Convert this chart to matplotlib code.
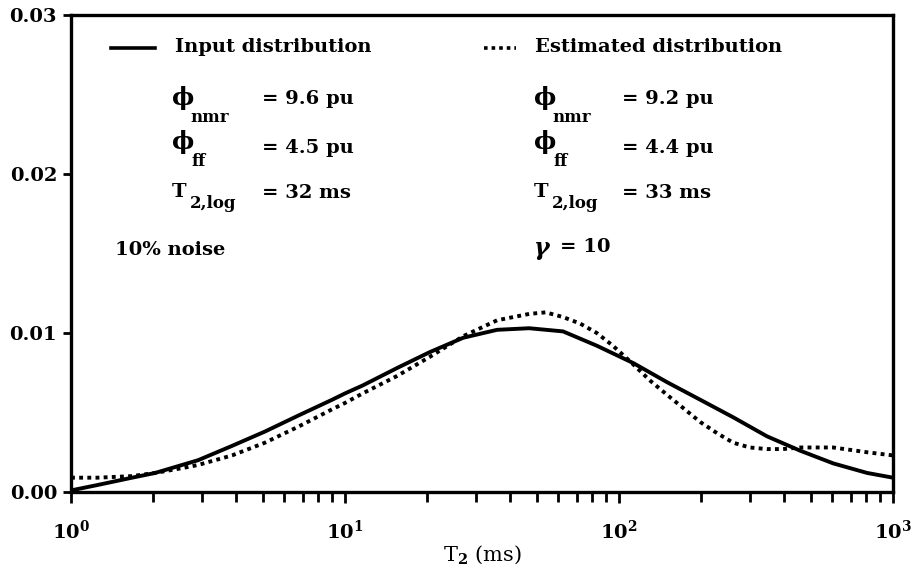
import numpy as np
import matplotlib.pyplot as plt
from matplotlib.ticker import LogLocator, NullFormatter, FixedLocator

# T2 (ms) values
t2_input = [1.0, 1.25, 1.67, 2.03, 2.91, 3.87, 5.1, 6.74, 8.97, 10, 11.6, 15.5,
            20.4, 27, 35.9, 47, 62.5, 83, 113, 150, 198, 261, 347, 458, 605,
            804, 1000]
amp_input = [0.0001, 0.00044, 0.0009, 0.0012, 0.0020, 0.0029, 0.0038, 0.0048,
             0.0058, 0.0062, 0.0067, 0.0078, 0.0088, 0.0097, 0.0102, 0.0103,
             0.0101, 0.0092, 0.0081, 0.0069, 0.0058, 0.0047, 0.0035, 0.0026,
             0.0018, 0.0012, 0.0009]

t2_est = [1.0, 1.25, 1.67, 2.03, 2.54, 2.91, 3.87, 5.1, 6.74, 8.97, 10, 11.6,
          15.5, 20.4, 27, 35.9, 47, 54, 62.5, 72, 83, 95, 110, 130, 150, 171,
          198, 228, 261, 300, 347, 397, 458, 605, 804, 1000]
amp_est = [0.0009, 0.0009, 0.0010, 0.0012, 0.0015, 0.0017, 0.0023, 0.0031,
           0.0041, 0.0052, 0.0056, 0.0062, 0.0073, 0.0085, 0.0098, 0.0108,
           0.0112, 0.0113, 0.0110, 0.0106, 0.0100, 0.0092, 0.0082, 0.0070,
           0.0061, 0.0053, 0.0044, 0.0037, 0.0031, 0.0028, 0.0027, 0.0027,
           0.0028, 0.0028, 0.0025, 0.0023]

y_ticks = [0.0, 0.01, 0.02, 0.03]
y_labels = ["0.00", "0.01", "0.02", "0.03"]

plt.rcParams['font.family'] = ['DejaVu Serif']
plt.rcParams['font.weight'] = 'bold'
plt.rcParams['mathtext.fontset'] = 'custom'
plt.rcParams['mathtext.rm'] = 'DejaVu Serif:bold'
plt.rcParams['mathtext.it'] = 'DejaVu Serif:bold:italic'
plt.rcParams['mathtext.bf'] = 'DejaVu Serif:bold'

fig = plt.figure(figsize=(9.2, 5.73), dpi=100)
ax = fig.add_axes([71 / 920, 1 - 492 / 573, 822 / 920, 477 / 573])

ax.plot(t2_input, amp_input, color='black', lw=2.8, solid_joinstyle='round')
ax.plot(t2_est, amp_est, color='black', lw=2.8, linestyle=(0, (1, 1.1)))

ax.set_xscale('log')
ax.set_xlim(1, 1000)
ax.set_ylim(0, 0.03)
ax.yaxis.set_major_locator(FixedLocator(y_ticks))
ax.set_yticklabels(y_labels)
ax.xaxis.set_minor_locator(LogLocator(base=10, subs=np.arange(2, 10)))
ax.xaxis.set_minor_formatter(NullFormatter())

for s in ax.spines.values():
    s.set_linewidth(2.4)
ax.tick_params(axis='x', which='major', direction='out', length=8, width=2,
               labelsize=14, pad=12)
ax.tick_params(axis='x', which='minor', direction='out', length=7, width=2)
ax.tick_params(axis='y', which='major', direction='out', length=6, width=2,
               labelsize=14, pad=4)

ax.set_xlabel(r'T$_2$ (ms)', fontsize=15, labelpad=0)

tr = ax.transAxes
def fx(px):
    return (px - 71) / 822
def fy(py):
    return (492 - py) / 477

fs = 14
# legend lines
ax.plot([fx(111), fx(155)], [fy(48), fy(48)], transform=tr, color='black', lw=2.6)
ax.plot([fx(484), fx(516)], [fy(48), fy(48)], transform=tr, color='black', lw=2.6,
        linestyle=(0, (1, 1.1)))
ax.text(fx(175), fy(47), 'Input distribution', transform=tr, fontsize=fs, va='center')
ax.text(fx(535), fy(47), 'Estimated distribution', transform=tr, fontsize=fs, va='center')

left_vals = ['= 9.6 pu', '= 4.5 pu', '= 32 ms']
right_vals = ['= 9.2 pu', '= 4.4 pu', '= 33 ms']
for dx, vals in [(0, left_vals), (362, right_vals)]:
    x0 = 172 + dx
    ax.text(fx(x0), fy(98), 'ϕ', transform=tr, fontsize=17, va='center')
    ax.text(fx(x0 + 18), fy(117), 'nmr', transform=tr, fontsize=12, va='center')
    ax.text(fx(x0), fy(142), 'ϕ', transform=tr, fontsize=17, va='center')
    ax.text(fx(x0 + 20), fy(161), 'ff', transform=tr, fontsize=12, va='center')
    ax.text(fx(x0), fy(192), 'T', transform=tr, fontsize=fs, va='center')
    ax.text(fx(x0 + 18), fy(203), '2,log', transform=tr, fontsize=12, va='center')
    for py, v in zip([99, 148, 193], vals):
        ax.text(fx(262 + dx - 2 * (dx > 0)), fy(py), v, transform=tr, fontsize=fs,
                va='center')

ax.text(fx(115), fy(250), '10% noise', transform=tr, fontsize=fs, va='center')
ax.text(fx(534), fy(248), 'γ', transform=tr, fontsize=17, va='center', style='italic')
ax.text(fx(560), fy(247), '= 10', transform=tr, fontsize=fs, va='center')

fig.savefig('out.png', dpi=100)
